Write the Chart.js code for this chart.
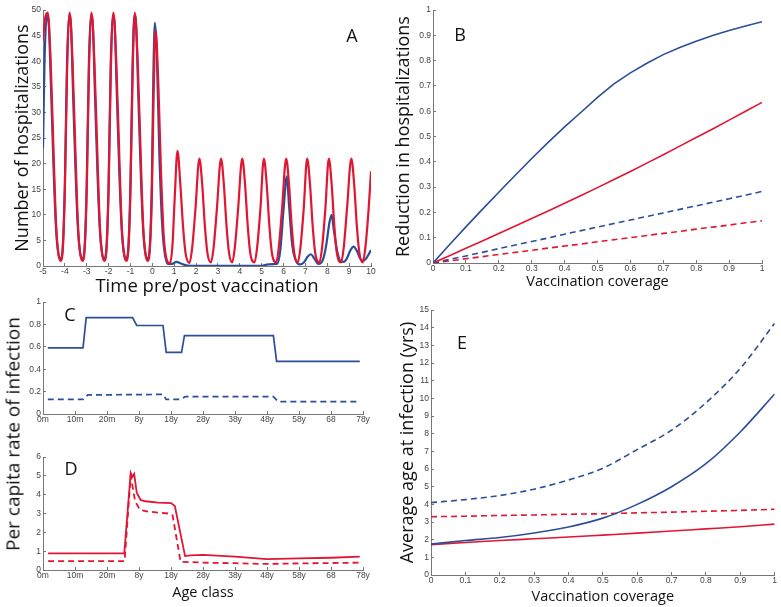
<!DOCTYPE html>
<html>
<head>
<meta charset="utf-8">
<script src="https://cdn.jsdelivr.net/npm/chart.js@4.4.1/dist/chart.umd.min.js"></script>
<style>
body { margin: 0; background: #fff; }
#fig { position: relative; width: 781px; height: 607px; overflow: hidden; }
canvas { position: absolute; }
.lbl { position: absolute; font-family: "Open Sans"; font-size: 18px; color: #111; line-height: 1; transform: translate(-50%, -50%); }
.ytitle { position: absolute; font-family: "Open Sans"; font-size: 19px; color: #111; white-space: nowrap; line-height: 1; transform: translate(-50%, -50%) rotate(-90deg); }
</style>
</head>
<body>
<div id="fig">
  <canvas id="cA" width="390" height="300" style="left:0;top:0"></canvas>
  <canvas id="cB" width="391" height="300" style="left:390px;top:0"></canvas>
  <canvas id="cC" width="390" height="140" style="left:0;top:290px"></canvas>
  <canvas id="cD" width="390" height="167" style="left:0;top:440px"></canvas>
  <canvas id="cE" width="391" height="307" style="left:390px;top:300px"></canvas>
  <div class="lbl" style="left:352px;top:35px">A</div>
  <div class="lbl" style="left:460px;top:34px">B</div>
  <div class="lbl" style="left:70px;top:314px">C</div>
  <div class="lbl" style="left:71px;top:468px">D</div>
  <div class="lbl" style="left:462px;top:342px">E</div>
  <div class="ytitle" style="left:13px;top:434px">Per capita rate of infection</div>
</div>
<script>
// ---- panel A: hospitalizations over time (years pre/post vaccination) ----
var aRed = [
  [-5.0,44],[-4.9,48.5],[-4.78,49.5],[-4.65,40],[-4.5,20],[-4.4,8],[-4.3,2.5],[-4.2,1.0],
  [-4.1,3],[-4.0,15],[-3.9,38],[-3.78,49.5],[-3.65,40],[-3.5,20],[-3.4,8],[-3.3,2.5],[-3.2,1.0],
  [-3.1,3],[-3.0,15],[-2.9,38],[-2.78,49.5],[-2.65,40],[-2.5,20],[-2.4,8],[-2.3,2.5],[-2.2,1.0],
  [-2.1,3],[-2.0,15],[-1.9,38],[-1.78,49.5],[-1.65,40],[-1.5,20],[-1.4,8],[-1.3,2.5],[-1.2,1.0],
  [-1.1,3],[-1.0,15],[-0.9,38],[-0.8,49.5],[-0.67,40],[-0.52,20],[-0.42,8],[-0.32,2.5],[-0.22,1.0],
  [-0.12,3],[-0.02,14],[0.06,34],[0.15,46],[0.27,36],[0.4,18],[0.52,6],[0.64,1.5],[0.8,0.5],
  [0.92,4],[1.02,13],[1.15,22.5],[1.28,16],[1.4,8],[1.52,2.5],[1.7,0.6],
  [1.82,3.5],[1.97,11],[2.15,21],[2.28,16],[2.4,8],[2.52,2.5],[2.68,0.7],
  [2.8,3.5],[2.95,11],[3.14,21],[3.27,16],[3.39,8],[3.51,2.5],[3.65,0.7],
  [3.77,3.5],[3.92,11],[4.11,21],[4.24,16],[4.36,8],[4.48,2.5],[4.67,0.7],
  [4.79,3.5],[4.94,11],[5.1,21],[5.23,16],[5.35,8],[5.47,2.5],[5.66,0.7],
  [5.78,3.5],[5.93,11],[6.12,21],[6.25,16],[6.37,8],[6.49,2.5],[6.65,0.7],
  [6.77,3.5],[6.92,11],[7.08,21],[7.21,16],[7.33,8],[7.45,2.5],[7.64,0.7],
  [7.76,3.5],[7.91,11],[8.07,21],[8.2,16],[8.32,8],[8.44,2.5],[8.63,0.7],
  [8.75,3.5],[8.9,11],[9.1,21],[9.23,16],[9.35,8],[9.47,2.5],[9.62,0.7],
  [9.74,3.5],[9.89,11],[10.0,18.5]
];
var aBlue = [
  [-5.0,23],[-4.93,40],[-4.82,49],[-4.74,47.5],[-4.62,33],[-4.5,17],[-4.4,7],[-4.3,2.5],[-4.2,1.4],
  [-4.1,3.5],[-4.0,16],[-3.9,40],[-3.8,49],[-3.72,47],[-3.62,33],[-3.5,17],[-3.4,7],[-3.3,2.5],[-3.2,1.4],
  [-3.1,3.5],[-3.0,16],[-2.9,40],[-2.8,49],[-2.72,47],[-2.62,33],[-2.5,17],[-2.4,7],[-2.3,2.5],[-2.2,1.4],
  [-2.1,3.5],[-2.0,16],[-1.9,40],[-1.8,49],[-1.72,47],[-1.62,33],[-1.5,17],[-1.4,7],[-1.3,2.5],[-1.2,1.4],
  [-1.1,3.5],[-1.0,16],[-0.9,40],[-0.82,49],[-0.74,47],[-0.64,33],[-0.52,17],[-0.42,7],[-0.32,2.5],[-0.22,1.4],
  [-0.12,3.5],[-0.02,17],[0.05,38],[0.12,47.5],[0.2,42],[0.32,22],[0.45,8],[0.55,3],[0.7,0.4],
  [0.9,0.4],[1.1,0.8],[1.3,0.5],[1.6,0.1],[2.0,0.05],[5.0,0.05],[5.3,0.3],[5.7,0.4],
  [5.85,3],[6.0,11],[6.15,17.5],[6.25,12],[6.4,4],[6.55,1.2],[6.75,0.3],
  [6.95,0.8],[7.1,1.8],[7.25,2.3],[7.4,1.5],[7.6,0.4],[7.8,1.2],[7.95,4],
  [8.1,8.5],[8.2,10],[8.3,7],[8.45,3],[8.6,1.0],[8.75,0.8],[8.9,1.5],
  [9.05,3],[9.2,3.8],[9.35,3],[9.5,1.5],[9.65,1.0],[9.8,1.6],[10.0,3.1]
];

// ---- panel B: reduction in hospitalizations vs coverage ----
var coverageB = [0,0.05,0.1,0.15,0.2,0.25,0.3,0.35,0.4,0.45,0.5,0.55,0.6,0.65,0.7,0.75,0.8,0.85,0.9,0.95,1];
var bBlue     = [0,0.072,0.143,0.212,0.28,0.347,0.413,0.477,0.538,0.596,0.655,0.708,0.752,0.79,0.824,0.852,0.877,0.9,0.919,0.937,0.954];
var bRed      = [0,0.029,0.058,0.087,0.117,0.146,0.176,0.206,0.236,0.267,0.298,0.33,0.362,0.395,0.428,0.462,0.496,0.53,0.565,0.6,0.635];
var bBlueDash = [0,0.014,0.028,0.042,0.057,0.071,0.085,0.099,0.114,0.128,0.142,0.156,0.17,0.184,0.198,0.212,0.226,0.24,0.254,0.268,0.283];
var bRedDash  = [0,0.008,0.017,0.025,0.034,0.042,0.05,0.059,0.067,0.075,0.084,0.092,0.1,0.109,0.117,0.125,0.134,0.142,0.15,0.159,0.167];

// ---- panels C, D: per capita rate of infection by age class ----
var ageLabels = ['0m','10m','20m','8y','18y','28y','38y','48y','58y','68','78y'];
var cBlue = [[0.15,0.59],[1.25,0.59],[1.35,0.86],[2.8,0.86],[2.93,0.79],[3.75,0.79],[3.85,0.55],[4.33,0.55],[4.42,0.70],[7.2,0.70],[7.3,0.47],[9.9,0.47]];
var cBlueDash = [[0.15,0.13],[1.25,0.13],[1.4,0.17],[3.75,0.175],[3.85,0.13],[4.3,0.13],[4.45,0.155],[7.2,0.155],[7.35,0.11],[9.9,0.11]];
var dRed = [[0.16,0.88],[2.54,0.88],[2.74,5.15],[2.8,4.95],[2.85,5.1],[2.93,4.1],[3.05,3.72],[3.2,3.65],[3.6,3.58],[4.0,3.55],[4.12,3.4],[4.44,0.74],[4.6,0.78],[5.0,0.8],[6.0,0.71],[7.0,0.58],[8.0,0.62],[9.0,0.65],[9.9,0.71]];
var dRedDash = [[0.16,0.47],[2.55,0.47],[2.74,5.0],[2.88,3.65],[3.03,3.19],[3.3,3.1],[3.6,3.05],[3.9,3.0],[4.05,2.9],[4.3,0.44],[5.0,0.39],[6.0,0.36],[7.0,0.32],[8.0,0.35],[9.9,0.39]];

// ---- panel E: average age at infection vs coverage ----
var coverageE = [0,0.1,0.2,0.3,0.4,0.5,0.6,0.7,0.8,0.9,1];
var eBlueDash = [4.1,4.27,4.5,4.86,5.38,6.05,7.1,8.2,9.75,11.7,14.25];
var eBlue     = [1.75,1.95,2.12,2.38,2.72,3.22,4.0,5.0,6.3,8.1,10.25];
var eRedDash  = [3.3,3.33,3.37,3.4,3.44,3.47,3.52,3.56,3.61,3.66,3.72];
var eRed      = [1.72,1.84,1.95,2.05,2.15,2.26,2.37,2.49,2.61,2.73,2.88];

var BLUE = 'rgb(44,78,152)';
var RED = 'rgb(224,22,50)';

function pairs(arr) {
  return arr.map(function(p) { return {x: p[0], y: p[1]}; });
}
function zip(xs, ys) {
  return xs.map(function(x, i) { return {x: x, y: ys[i]}; });
}
function line(data, color, width, dashed, smooth) {
  return {
    data: data, borderColor: color, borderWidth: width,
    borderDash: dashed ? [6, 4] : [], pointRadius: 0, fill: false,
    tension: 0, cubicInterpolationMode: smooth ? 'monotone' : 'default'
  };
}
function axis(o) {
  return {
    type: 'linear', min: o.min, max: o.max,
    afterFit: function(s) {
      if (o.w !== undefined) s.width = o.w;
      if (o.h !== undefined) s.height = o.h;
    },
    ticks: {
      stepSize: o.step, autoSkip: false, maxRotation: 0, padding: o.tp || 5,
      color: '#444', font: {family: 'Liberation Sans', size: 8.5},
      callback: o.cb || function(v) { return String(Math.round(v * 10) / 10); }
    },
    grid: {drawOnChartArea: false, drawTicks: true, tickLength: -3, color: '#777'},
    border: {display: true, color: '#777', width: 1},
    title: o.title ? {
      display: true, text: o.title, color: '#111',
      font: {family: 'Open Sans', size: o.ts},
      padding: {top: o.pt || 0, bottom: o.pb || 0}
    } : {display: false}
  };
}
function make(id, datasets, x, y, pad) {
  new Chart(document.getElementById(id), {
    type: 'line',
    data: {datasets: datasets},
    options: {
      responsive: false, animation: false, events: [],
      layout: {padding: pad},
      plugins: {legend: {display: false}, tooltip: {enabled: false}},
      scales: {x: x, y: y}
    }
  });
}

make('cA',
  [line(pairs(aRed), RED, 2.2, false, true), line(pairs(aBlue), BLUE, 2.2, false, true)],
  axis({min: -5, max: 10, step: 1, h: 34, tp: 4, title: 'Time pre/post vaccination', ts: 18.5, pb: 2}),
  axis({min: 0, max: 50, step: 5, w: 43, title: 'Number of hospitalizations', ts: 18, pt: 12}),
  {top: 10, right: 19, bottom: 0, left: 0});

make('cB',
  [line(zip(coverageB, bBlue), BLUE, 1.6), line(zip(coverageB, bRed), RED, 1.6),
   line(zip(coverageB, bBlueDash), BLUE, 1.6, true), line(zip(coverageB, bRedDash), RED, 1.6, true)],
  axis({min: 0, max: 1, step: 0.1, h: 37, tp: 4, title: 'Vaccination coverage', ts: 14.5, pb: 9}),
  axis({min: 0, max: 1, step: 0.1, w: 43, title: 'Reduction in hospitalizations', ts: 18, pt: 3}),
  {top: 5, right: 19, bottom: 0, left: 0});

var ageCb = function(v) { return ageLabels[Math.round(v)]; };

make('cC',
  [line(pairs(cBlue), BLUE, 1.7), line(pairs(cBlueDash), BLUE, 1.7, true)],
  axis({min: 0, max: 10, step: 1, h: 16, tp: 4, cb: ageCb}),
  axis({min: 0, max: 1, step: 0.2, w: 43}),
  {top: 12, right: 27, bottom: 0, left: 0});

make('cD',
  [line(pairs(dRed), RED, 1.8), line(pairs(dRedDash), RED, 1.8, true)],
  axis({min: 0, max: 10, step: 1, h: 37, tp: 4, cb: ageCb, title: 'Age class', ts: 14.5, pb: 5}),
  axis({min: 0, max: 6, step: 1, w: 43}),
  {top: 17, right: 27, bottom: 0, left: 0});

make('cE',
  [line(zip(coverageE, eBlueDash), BLUE, 1.6, true, true), line(zip(coverageE, eBlue), BLUE, 1.6, false, true),
   line(zip(coverageE, eRedDash), RED, 1.6, true, true), line(zip(coverageE, eRed), RED, 1.6, false, true)],
  axis({min: 0, max: 1, step: 0.1, h: 32, tp: 4, title: 'Vaccination coverage', ts: 14.5, pb: 1}),
  axis({min: 0, max: 15, step: 1, w: 41, title: 'Average age at infection (yrs)', ts: 18, pt: 7}),
  {top: 5, right: 4, bottom: 0, left: 0});
</script>
</body>
</html>
